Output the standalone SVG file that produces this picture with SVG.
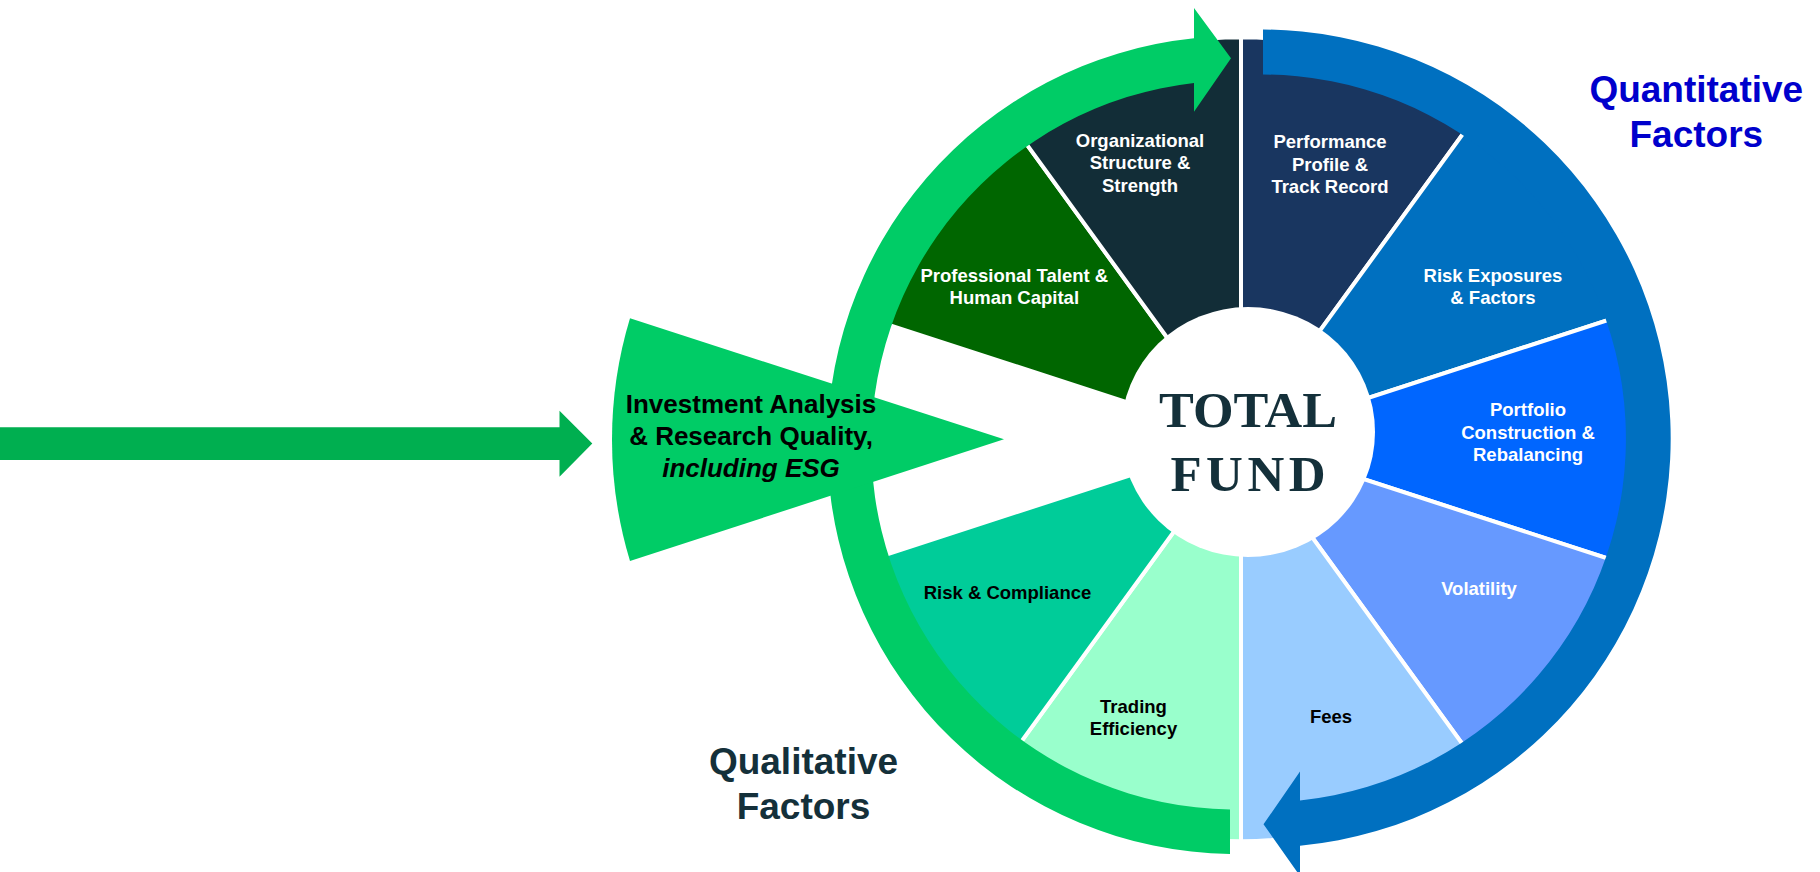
<svg xmlns="http://www.w3.org/2000/svg" width="1820" height="872" viewBox="0 0 1820 872">
  <style>
    .wedge { stroke: #ffffff; stroke-width: 4; stroke-linejoin: miter; }
    .lbl { font-family: "Liberation Sans", Arial, sans-serif; font-weight: bold; font-size: 18.5px; text-anchor: middle; }
    .w { fill: #ffffff; }
    .k { fill: #000000; }
    .big { font-family: "Liberation Sans", Arial, sans-serif; font-weight: bold; font-size: 26px; text-anchor: middle; fill: #000000; }
    .head { font-family: "Liberation Sans", Arial, sans-serif; font-weight: bold; font-size: 37px; text-anchor: middle; }
    .total { font-family: "Liberation Serif", "Times New Roman", serif; font-weight: bold; font-size: 51px; text-anchor: middle; fill: #14303A; }
  </style>
  <rect width="1820" height="872" fill="#ffffff"/>

  <!-- wheel wedges -->
  <g id="performance">
    <path class="wedge" fill="#193660" d="M1241,439.3 L1241,37.3 A402,402 0 0 1 1477.3,114.1 Z"/>
    <text class="lbl w" x="1330" y="148.3">Performance</text>
    <text class="lbl w" x="1330" y="170.7">Profile &amp;</text>
    <text class="lbl w" x="1330" y="193">Track Record</text>
  </g>
  <g id="risk-exposures">
    <path class="wedge" fill="#0070C0" d="M1241,439.3 L1477.3,114.1 A402,402 0 0 1 1623.3,315.1 Z"/>
    <text class="lbl w" x="1493" y="281.5">Risk Exposures</text>
    <text class="lbl w" x="1493" y="304.3">&amp; Factors</text>
  </g>
  <g id="portfolio">
    <path class="wedge" fill="#0066FF" d="M1241,439.3 L1623.3,315.1 A402,402 0 0 1 1623.3,563.5 Z"/>
    <text class="lbl w" x="1528" y="416">Portfolio</text>
    <text class="lbl w" x="1528" y="438.5">Construction &amp;</text>
    <text class="lbl w" x="1528" y="460.5">Rebalancing</text>
  </g>
  <g id="volatility">
    <path class="wedge" fill="#6699FF" d="M1241,439.3 L1623.3,563.5 A402,402 0 0 1 1477.3,764.5 Z"/>
    <text class="lbl w" x="1479" y="595">Volatility</text>
  </g>
  <g id="fees">
    <path class="wedge" fill="#99CCFF" d="M1241,439.3 L1477.3,764.5 A402,402 0 0 1 1241,841.3 Z"/>
    <text class="lbl k" x="1331" y="723.3">Fees</text>
  </g>
  <g id="trading-efficiency">
    <path class="wedge" fill="#99FFCC" d="M1241,439.3 L1241,841.3 A402,402 0 0 1 1004.7,764.5 Z"/>
    <text class="lbl k" x="1133.5" y="713.3">Trading</text>
    <text class="lbl k" x="1133.5" y="734.5">Efficiency</text>
  </g>
  <g id="risk-compliance">
    <path class="wedge" fill="#00CC99" d="M1241,439.3 L1004.7,764.5 A402,402 0 0 1 858.7,563.5 Z"/>
    <text class="lbl k" x="1007.5" y="599.3">Risk &amp; Compliance</text>
  </g>
  <g id="professional-talent">
    <path class="wedge" fill="#006600" d="M1241,439.3 L858.7,315.1 A402,402 0 0 1 1004.7,114.1 Z"/>
    <text class="lbl w" x="1014.3" y="281.5">Professional Talent &amp;</text>
    <text class="lbl w" x="1014.3" y="304.3">Human Capital</text>
  </g>
  <g id="organizational-structure">
    <path class="wedge" fill="#122D37" d="M1241,439.3 L1004.7,114.1 A402,402 0 0 1 1241,37.3 Z"/>
    <text class="lbl w" x="1140" y="146.5">Organizational</text>
    <text class="lbl w" x="1140" y="169">Structure &amp;</text>
    <text class="lbl w" x="1140" y="191.5">Strength</text>
  </g>

  <!-- hub -->
  <g id="total-fund">
    <ellipse cx="1248" cy="432" rx="127" ry="125" fill="#ffffff"/>
    <text class="total" x="1248" y="427.3" textLength="178" lengthAdjust="spacingAndGlyphs">TOTAL</text>
    <text class="total" x="1248" y="491" textLength="155" lengthAdjust="spacing">FUND</text>
  </g>

  <!-- connectors: circular flows and input arrow -->
  <g id="connectors">
    <path id="qualitative-flow" fill="#00CC66" d="M1230,853.96 A409,409 0 0 1 1194,38.2 L1194,8 L1231,58.3 L1194,111.7 L1194,82.9 A364.5,364.5 0 0 0 1230,809.45 Z"/>
    <path id="quantitative-flow" fill="#0070C0" d="M1263,29.5 A409,409 0 0 1 1300,845.7 L1300,876 L1263.5,824.3 L1300,771.5 L1300,800.5 A364,364 0 0 0 1263,74.5 Z"/>
    <polygon id="input-arrow" fill="#00AF50" points="0,427.3 559.5,427.3 559.5,410.7 592.3,443.5 559.5,476.7 559.5,460 0,460"/>
  </g>

  <g id="investment-analysis">
    <path fill="#00CC66" d="M1004,439.3 L630,561 A418,418 0 0 1 630,318.3 Z"/>
    <text class="big" x="751" y="413.3">Investment Analysis</text>
    <text class="big" x="751" y="445">&amp; Research Quality,</text>
    <text class="big" x="751" y="476.7" font-style="italic">including ESG</text>
  </g>

  <g id="quantitative-label">
    <text class="head" fill="#0000CC" x="1696.3" y="101.7">Quantitative</text>
    <text class="head" fill="#0000CC" x="1696.3" y="146.7">Factors</text>
  </g>
  <g id="qualitative-label">
    <text class="head" fill="#14303A" x="803.5" y="773.5">Qualitative</text>
    <text class="head" fill="#14303A" x="803.5" y="818.5">Factors</text>
  </g>
</svg>
